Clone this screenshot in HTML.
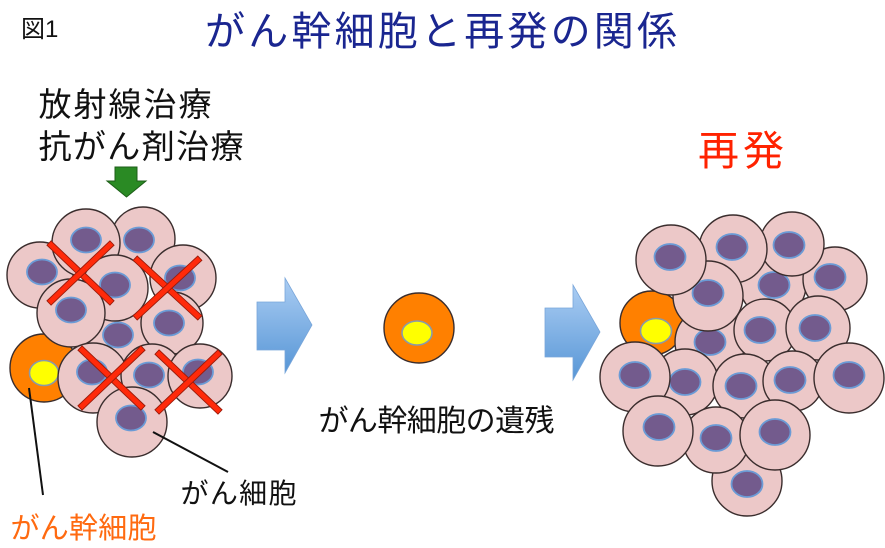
<!DOCTYPE html>
<html>
<head>
<meta charset="utf-8">
<style>
  html, body { margin: 0; padding: 0; background: #ffffff; }
  svg { display: block; }
  .c circle { fill: #ecc8c8; stroke: #3a2d2d; stroke-width: 1.4; }
  .c ellipse { fill: #735b8d; stroke: #6b9bd6; stroke-width: 1.8; }
  .o circle { fill: #ff8000; stroke: #3a2d2d; stroke-width: 1.4; }
  .o ellipse { fill: #ffff00; stroke: #8a9aa8; stroke-width: 1.6; }
  .x rect { fill: #ff2a0a; stroke: #9a1a0a; stroke-width: 0.9; }
  text { font-family: "Liberation Sans", "Noto Sans CJK JP", sans-serif; }
</style>
</head>
<body>
<svg width="885" height="548" viewBox="0 0 885 548" xmlns="http://www.w3.org/2000/svg">
  <defs>
    <linearGradient id="bg" x1="0" y1="0" x2="0" y2="1">
      <stop offset="0" stop-color="#abcdf3"/>
      <stop offset="1" stop-color="#5796d6"/>
    </linearGradient>
  </defs>

  <!-- Titles / labels -->
  <text x="21" y="37" font-size="24" fill="#111">図1</text>
  <text x="205" y="45" font-size="40" fill="#1a2690" textLength="472" lengthAdjust="spacing">がん幹細胞と再発の関係</text>
  <text x="38.5" y="116" font-size="33" fill="#111" textLength="173" lengthAdjust="spacing">放射線治療</text>
  <text x="38.5" y="158" font-size="33" fill="#111" textLength="205" lengthAdjust="spacing">抗がん剤治療</text>
  <text x="698" y="165" font-size="41" fill="#ff2200" textLength="86" lengthAdjust="spacing">再発</text>
  <text x="318.5" y="431" font-size="30" fill="#111" textLength="236" lengthAdjust="spacing">がん幹細胞の遺残</text>
  <text x="180.5" y="503" font-size="28" fill="#111" textLength="116" lengthAdjust="spacing">がん細胞</text>
  <text x="10.5" y="538" font-size="29" fill="#ff6a10" textLength="146" lengthAdjust="spacing">がん幹細胞</text>

  <!-- Green arrow -->
  <polygon points="115,167 137,167 137,181 146,181 126.5,197 107,181 115,181" fill="#2a8a24" stroke="#1d5e18" stroke-width="1"/>

  <!-- Left cluster -->
  <g class="c"><circle cx="143" cy="239" r="32"/><ellipse cx="139" cy="240" rx="15" ry="12.5"/></g>
  <g class="c"><circle cx="183" cy="278" r="33"/><ellipse cx="180" cy="278" rx="15" ry="12.5"/></g>
  <g class="c"><circle cx="40" cy="275" r="33"/><ellipse cx="42" cy="272" rx="15" ry="12.5"/></g>
  <g class="c"><circle cx="86" cy="243" r="34"/><ellipse cx="86" cy="240" rx="15" ry="12.5"/></g>
  <g class="c"><circle cx="118" cy="335" r="33"/><ellipse cx="118" cy="335" rx="15" ry="12.5"/></g>
  <g class="c"><circle cx="115" cy="288" r="33"/><ellipse cx="115" cy="285" rx="15" ry="12.5"/></g>
  <g class="c"><circle cx="172" cy="323" r="31"/><ellipse cx="169" cy="323" rx="15" ry="12.5"/></g>
  <g class="o"><circle cx="44" cy="368" r="34"/><ellipse cx="44" cy="373" rx="14.5" ry="12.5"/></g>
  <g class="c"><circle cx="71" cy="313" r="34"/><ellipse cx="71" cy="310" rx="15" ry="12.5"/></g>
  <g class="c"><circle cx="93" cy="378" r="35"/><ellipse cx="92" cy="372" rx="15" ry="12.5"/></g>
  <g class="c"><circle cx="152" cy="375" r="31"/><ellipse cx="149" cy="375" rx="15" ry="12.5"/></g>
  <g class="c"><circle cx="200" cy="376" r="32"/><ellipse cx="198" cy="372" rx="15" ry="12.5"/></g>
  <g class="c"><circle cx="132" cy="422" r="35"/><ellipse cx="131" cy="418" rx="15" ry="12.5"/></g>

  <!-- Red crosses -->
  <g class="x" transform="translate(80.5,273)">
    <rect x="-43.5" y="-3" width="87" height="6" transform="rotate(43.6)"/>
    <rect x="-43.5" y="-3" width="87" height="6" transform="rotate(-43.6)"/>
  </g>
  <g class="x" transform="translate(167.5,288)">
    <rect x="-44" y="-3" width="88" height="6" transform="rotate(42.7)"/>
    <rect x="-44" y="-3" width="88" height="6" transform="rotate(-42.7)"/>
  </g>
  <g class="x" transform="translate(111.5,378)">
    <rect x="-43.5" y="-3" width="87" height="6" transform="rotate(43.6)"/>
    <rect x="-43.5" y="-3" width="87" height="6" transform="rotate(-43.6)"/>
  </g>
  <g class="x" transform="translate(188.5,382)">
    <rect x="-43.5" y="-3" width="87" height="6" transform="rotate(43.6)"/>
    <rect x="-43.5" y="-3" width="87" height="6" transform="rotate(-43.6)"/>
  </g>

  <!-- Leader lines -->
  <line x1="29" y1="388" x2="43" y2="495" stroke="#111" stroke-width="2"/>
  <line x1="153" y1="432" x2="228" y2="472" stroke="#111" stroke-width="2"/>

  <!-- Blue arrows -->
  <polygon points="257,302 285,302 285,278 312,325 285,373 285,350 257,350" fill="url(#bg)" stroke="#79a6da" stroke-width="0.8"/>
  <polygon points="545,308 573,308 573,285 600,332 573,380 573,357 545,357" fill="url(#bg)" stroke="#79a6da" stroke-width="0.8"/>

  <!-- Middle stem cell -->
  <g class="o"><circle cx="419" cy="328" r="35"/><ellipse cx="417" cy="333" rx="15" ry="12"/></g>

  <!-- Right cluster -->
  <g class="c"><circle cx="773" cy="285" r="33"/><ellipse cx="774" cy="285" rx="15.5" ry="13"/></g>
  <g class="c"><circle cx="835" cy="279" r="32"/><ellipse cx="830" cy="277" rx="15.5" ry="13"/></g>
  <g class="c"><circle cx="792" cy="244" r="32"/><ellipse cx="789" cy="245" rx="15.5" ry="13"/></g>
  <g class="c"><circle cx="733" cy="249" r="34"/><ellipse cx="732" cy="247" rx="15.5" ry="13"/></g>
  <g class="o"><circle cx="652" cy="323" r="32"/><ellipse cx="656" cy="331" rx="15.5" ry="12.5"/></g>
  <g class="c"><circle cx="710" cy="342" r="35"/><ellipse cx="710" cy="342" rx="15.5" ry="13"/></g>
  <g class="c"><circle cx="708" cy="296" r="35"/><ellipse cx="708" cy="293" rx="15.5" ry="13"/></g>
  <g class="c"><circle cx="671" cy="260" r="35"/><ellipse cx="670" cy="257" rx="15.5" ry="13"/></g>
  <g class="c"><circle cx="765" cy="330" r="31"/><ellipse cx="760" cy="330" rx="15.5" ry="13"/></g>
  <g class="c"><circle cx="818" cy="328" r="32"/><ellipse cx="815" cy="328" rx="15.5" ry="13"/></g>
  <g class="c"><circle cx="685" cy="382" r="33"/><ellipse cx="685" cy="382" rx="15.5" ry="13"/></g>
  <g class="c"><circle cx="745" cy="386" r="32"/><ellipse cx="741" cy="386" rx="15.5" ry="13"/></g>
  <g class="c"><circle cx="793" cy="381" r="30"/><ellipse cx="790" cy="380" rx="15.5" ry="13"/></g>
  <g class="c"><circle cx="635" cy="377" r="35"/><ellipse cx="635" cy="375" rx="15.5" ry="13"/></g>
  <g class="c"><circle cx="849" cy="378" r="35"/><ellipse cx="849" cy="375" rx="15.5" ry="13"/></g>
  <g class="c"><circle cx="747" cy="481" r="35"/><ellipse cx="747" cy="484" rx="15.5" ry="13"/></g>
  <g class="c"><circle cx="716" cy="440" r="33"/><ellipse cx="716" cy="438" rx="15.5" ry="13"/></g>
  <g class="c"><circle cx="775" cy="435" r="35"/><ellipse cx="775" cy="432" rx="15.5" ry="13"/></g>
  <g class="c"><circle cx="658" cy="431" r="35"/><ellipse cx="659" cy="427" rx="15.5" ry="13"/></g>
</svg>
</body>
</html>
